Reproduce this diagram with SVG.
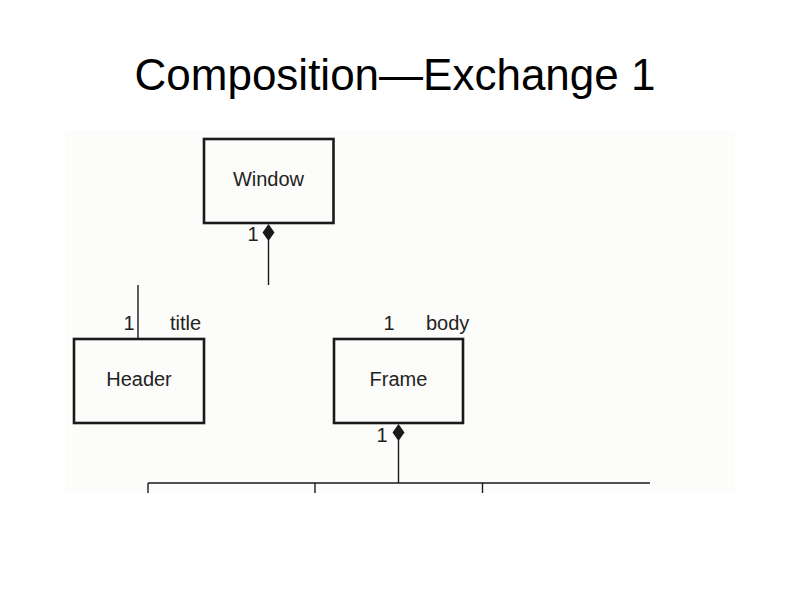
<svg xmlns="http://www.w3.org/2000/svg" width="794" height="595" viewBox="0 0 794 595">
<style>
.box{fill:none;stroke:#1a1a1a;stroke-width:2.6}
.lbl{font-family:"Liberation Sans",Arial,sans-serif;font-size:20px;fill:#222}
.ln{stroke:#1a1a1a;stroke-width:1.4;fill:none}
.dia{fill:#1a1a1a;stroke:none}
</style>
<rect x="0" y="0" width="794" height="595" fill="#ffffff"/>
<rect x="65" y="130" width="670" height="362" fill="#fcfcfa"/>
<text x="395" y="90" text-anchor="middle" font-family="'Liberation Sans',Arial,sans-serif" font-size="44" fill="#000">Composition—Exchange 1</text>
<g id="connectors">
<polygon class="dia" points="268.5,224 274.5,232.5 268.5,241 262.5,232.5"/>
<line class="ln" x1="268.5" y1="240" x2="268.5" y2="285"/>
<line class="ln" x1="138" y1="285" x2="138" y2="338"/>
<polygon class="dia" points="398.5,424 404.5,432.5 398.5,441 392.5,432.5"/>
<line class="ln" x1="398.5" y1="440" x2="398.5" y2="483"/>
<line class="ln" x1="148" y1="483" x2="650" y2="483"/>
<line class="ln" x1="148" y1="483" x2="148" y2="493"/>
<line class="ln" x1="315" y1="483" x2="315" y2="493"/>
<line class="ln" x1="482.5" y1="483" x2="482.5" y2="493"/>
<text class="lbl" x="253" y="241" text-anchor="middle">1</text>
<text class="lbl" x="129" y="330" text-anchor="middle">1</text>
<text class="lbl" x="170" y="330">title</text>
<text class="lbl" x="389" y="330" text-anchor="middle">1</text>
<text class="lbl" x="426" y="330">body</text>
<text class="lbl" x="382" y="442" text-anchor="middle">1</text>
</g>
<g id="window">
<rect class="box" x="204" y="139" width="129.5" height="84"/>
<text class="lbl" x="268.5" y="186" text-anchor="middle">Window</text>
</g>
<g id="header">
<rect class="box" x="74" y="339" width="130" height="84"/>
<text class="lbl" x="139" y="386" text-anchor="middle">Header</text>
</g>
<g id="frame">
<rect class="box" x="334" y="339" width="129" height="84"/>
<text class="lbl" x="398.5" y="386" text-anchor="middle">Frame</text>
</g>
</svg>
